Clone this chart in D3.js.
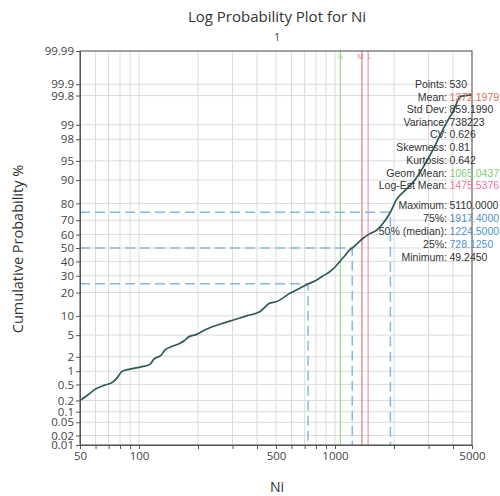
<!DOCTYPE html>
<html><head><meta charset="utf-8">
<script src="https://cdn.jsdelivr.net/npm/d3@7"></script>
<style>body{margin:0;background:#fff}svg{display:block}</style>
</head><body>
<svg id="c" width="500" height="496"></svg>
<script>
// ---- data ----
const niValues = [49.245,55,59.6,66,74,78,81.6,87,93.6,105,113.8,119,130,135.5,146,161.8,170,178,197,215,230,259,303,354,415,463,500,589,650,729,806,870,940,1000,1056,1120,1186,1224.5,1300,1390,1500,1635,1760,1917,2054,2300,2552,2850,3160,3400,3690,4000,4380,5110];
const cumPct   = [0.19,0.28,0.38,0.47,0.58,0.75,0.98,1.08,1.15,1.27,1.40,1.79,2.17,2.7,3.12,3.6,4.0,4.6,5.15,6.0,6.6,7.5,8.7,10.0,11.5,14.8,15.5,19.6,22.0,24.8,27.3,30,32.7,36,39.8,44,48.5,50,53.5,57.3,60.5,63.3,68,75,81.8,86.5,90,94,96.8,98.2,99.07,99.5,99.79,99.81];
const yTicks = [0.01,0.02,0.05,0.1,0.2,0.5,1,2,5,10,20,30,40,50,60,70,80,90,95,98,99,99.8,99.9,99.99];
const xGrid = [50,60,70,80,90,100,200,300,400,500,600,700,800,900,1000,2000,3000,4000,5000];
const xLabels = [50,100,500,1000,5000];
const statLabels = ["Points:","Mean:","Std Dev:","Variance:","CV:","Skewness:","Kurtosis:","Geom Mean:","Log-Est Mean:","Maximum:","75%:","50% (median):","25%:","Minimum:"];
const statValues = ["530","1372.1979","859.1990","738223","0.626","0.81","0.642","1065.0437","1475.5376","5110.0000","1917.4000","1224.5000","728.1250","49.2450"];
const statColors = ["#333","#e07058","#333","#333","#333","#333","#333","#7fcf6f","#e878a8","#333","#4f94cc","#4f94cc","#4f94cc","#333"];
const refLines = [{v:1065.0437,c:"#9ad68a",t:"G"},{v:1372.1979,c:"#e07a7a",t:"M"},{v:1475.5376,c:"#e596c8",t:"L"}];
const quartiles = [{p:25,v:728.125},{p:50,v:1224.5},{p:75,v:1917.4}];

// inverse normal CDF (Acklam)
function probit(p){
  const a=[-39.69683028665376,220.9460984245205,-275.9285104469687,138.3577518672690,-30.66479806614716,2.506628277459239];
  const b=[-54.47609879822406,161.5858368580409,-155.6989798598866,66.80131188771972,-13.28068155288572];
  const c=[-0.007784894002430293,-0.3223964580411365,-2.400758277161838,-2.549732539343734,4.374664141464968,2.938163982698783];
  const d=[0.007784695709041462,0.3224671290700398,2.445134137142996,3.754408661907416];
  const pl=0.02425;let q,r;
  if(p<pl){q=Math.sqrt(-2*Math.log(p));return (((((c[0]*q+c[1])*q+c[2])*q+c[3])*q+c[4])*q+c[5])/((((d[0]*q+d[1])*q+d[2])*q+d[3])*q+1);}
  if(p<=1-pl){q=p-0.5;r=q*q;return (((((a[0]*r+a[1])*r+a[2])*r+a[3])*r+a[4])*r+a[5])*q/(((((b[0]*r+b[1])*r+b[2])*r+b[3])*r+b[4])*r+1);}
  q=Math.sqrt(-2*Math.log(1-p));return -(((((c[0]*q+c[1])*q+c[2])*q+c[3])*q+c[4])*q+c[5])/((((d[0]*q+d[1])*q+d[2])*q+d[3])*q+1);
}
const L=80,R=472,T=51,B=445;
const svg=d3.select("#c");
const x=d3.scaleLog().domain([50,5000]).range([L,R]);
const yz=d3.scaleLinear().domain([probit(0.0001),probit(0.9999)]).range([B,T]);
const y=p=>yz(probit(p/100));
const font="'Open Sans', sans-serif";

svg.append("defs").append("clipPath").attr("id","clip").append("rect").attr("x",L).attr("y",T).attr("width",R-L).attr("height",B-T);

// grid
svg.append("g").selectAll("line").data(xGrid).join("line")
  .attr("x1",d=>x(d)).attr("x2",d=>x(d)).attr("y1",T).attr("y2",B).attr("stroke","#dcdcdc").attr("stroke-width",1);
svg.append("g").selectAll("line").data(yTicks).join("line")
  .attr("x1",L).attr("x2",R).attr("y1",d=>y(d)).attr("y2",d=>y(d)).attr("stroke","#dcdcdc").attr("stroke-width",1);

// reference lines
const rg=svg.append("g");
rg.selectAll("line").data(refLines).join("line")
  .attr("x1",d=>x(d.v)).attr("x2",d=>x(d.v)).attr("y1",T).attr("y2",B).attr("stroke",d=>d.c).attr("stroke-width",1.2);
rg.selectAll("text").data(refLines).join("text")
  .attr("x",(d,i)=>x(d.v)+(i===1?-1.5:i===2?1.5:0)).attr("y",T+8).attr("text-anchor","middle")
  .attr("font-family",font).attr("font-size",7).attr("fill",d=>d.c).text(d=>d.t);

// quartile dashed lines
const qg=svg.append("g").attr("stroke","#80bce0").attr("stroke-width",1.5).attr("stroke-dasharray","10,5").attr("fill","none");
qg.selectAll("path").data(quartiles).join("path")
  .attr("d",d=>`M${L},${y(d.p)}H${x(d.v)}V${B}`);

// curve
const line=d3.line().x((d,i)=>x(niValues[i])).y((d,i)=>y(cumPct[i])).curve(d3.curveMonotoneX);
svg.append("path").datum(niValues).attr("clip-path","url(#clip)")
  .attr("d",line).attr("fill","none").attr("stroke","#2e5a5a").attr("stroke-width",1.7);

// frame
svg.append("rect").attr("x",L).attr("y",T).attr("width",R-L).attr("height",B-T).attr("fill","none").attr("stroke","#555").attr("stroke-width",1);

// axes
const yAxis=d3.axisLeft(yz).tickValues(yTicks.map(p=>probit(p/100))).tickFormat((d,i)=>String(yTicks[i])).tickSize(4).tickPadding(2);
const ya=svg.append("g").attr("transform",`translate(${L},0)`).call(yAxis);
ya.select(".domain").attr("stroke","#555");
ya.selectAll(".tick line").attr("stroke","#555");
ya.selectAll("text").attr("font-family",font).attr("font-size",11.5).attr("fill","#444");

const xAxis=d3.axisBottom(x).tickValues(xGrid).tickFormat(d=>xLabels.includes(d)?String(d):"").tickSize(4).tickPadding(3);
const xa=svg.append("g").attr("transform",`translate(0,${B})`).call(xAxis);
xa.select(".domain").attr("stroke","#555");
xa.selectAll(".tick line").attr("stroke","#555");
xa.selectAll("text").attr("font-family",font).attr("font-size",11.5).attr("fill","#444");

// titles
svg.append("text").attr("x",277).attr("y",22).attr("text-anchor","middle").attr("font-family",font).attr("font-size",15).attr("fill","#333").text("Log Probability Plot for Ni");
svg.append("text").attr("x",277).attr("y",41).attr("text-anchor","middle").attr("font-family",font).attr("font-size",10).attr("fill","#333").text("1");
svg.append("text").attr("x",277).attr("y",492).attr("text-anchor","middle").attr("font-family",font).attr("font-size",14).attr("fill","#333").text("Ni");
svg.append("text").attr("transform","translate(23,249) rotate(-90)").attr("text-anchor","middle").attr("font-family",font).attr("font-size",14.5).attr("fill","#333").text("Cumulative Probability %");

// stats
const rowY=[84,96.5,109,121.7,134.4,147,159.8,172.5,185.2,205,218,231,244,257];
const sg=svg.append("g").attr("font-family","'Liberation Sans', Arial, sans-serif").attr("font-size",10.5);
sg.selectAll("text.l").data(statLabels).join("text").attr("class","l")
  .attr("x",447).attr("y",(d,i)=>rowY[i]+4).attr("text-anchor","end").attr("fill","#333").text(d=>d);
sg.selectAll("text.v").data(statValues).join("text").attr("class","v")
  .attr("x",449.5).attr("y",(d,i)=>rowY[i]+4).attr("fill",(d,i)=>statColors[i]).text(d=>d);
</script>
</body></html>
